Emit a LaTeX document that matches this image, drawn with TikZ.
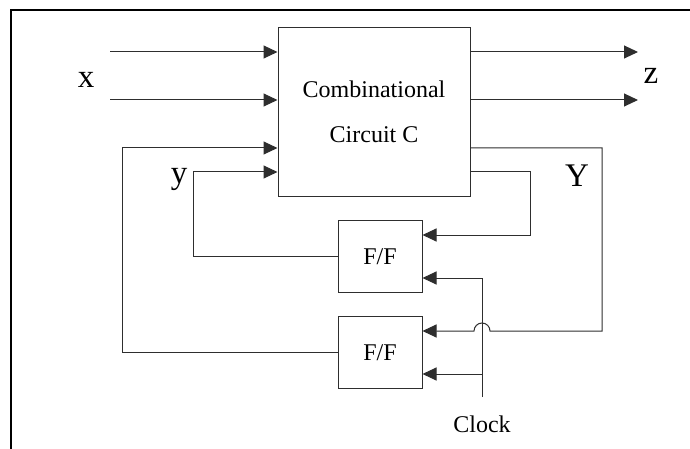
\documentclass[tikz,border=0pt]{standalone}
\usepackage{fontspec}
\setmainfont{Liberation Serif}
\usetikzlibrary{arrows.meta, calc}
\definecolor{wire}{HTML}{2E2E2E}

\begin{document}
\begin{tikzpicture}[
    x=1pt, y=-1pt,
    blk/.style={draw=wire, line width=1pt, inner sep=0pt, align=center},
    arr/.style={-{Triangle[length=14pt, width=13pt]}, draw=wire, line width=1pt},
    lbl/.style={font=\fontsize{33}{33}\selectfont, inner sep=0pt},
    txt/.style={font=\fontsize{24}{45}\selectfont},
]
    \useasboundingbox (0,0) rectangle (690,449);
    \draw[line width=2pt] (11,449) -- (11,10) -- (690,10);

    % blocks
    \node[blk, txt, minimum width=192pt, minimum height=168pt] (comb) at (374,112) {Combinational\\Circuit C};
    \node[blk, txt, minimum width=84pt, minimum height=72pt] (ff1) at (380,256.5) {F/F};
    \node[blk, txt, minimum width=84pt, minimum height=72pt] (ff2) at (380,352.5) {F/F};

    % inputs x
    \coordinate (xa) at (110,52);
    \coordinate (xb) at (110,100);
    \draw[arr] (xa) -- (xa -| comb.west);
    \draw[arr] (xb) -- (xb -| comb.west);
    \node[lbl] (lx) at (86,80) {x};

    % outputs z
    \coordinate (za) at (638,52);
    \coordinate (zb) at (638,100);
    \draw[arr] (za -| comb.east) -- (za);
    \draw[arr] (zb -| comb.east) -- (zb);
    \node[lbl] (lz) at (651,76) {z};

    % feedback y
    \coordinate (ya) at (comb.west |- 0,148);
    \coordinate (yb) at (comb.west |- 0,172);
    \draw[arr] (ff1.west) -- ++(-144,0) |- (yb);
    \draw[arr] (ff2.west) -- ++(-215,0) |- (ya);
    \node[lbl] (ly) at (179,179) {y};

    % next state Y
    \coordinate (Ya) at (comb.east |- 0,148);
    \coordinate (Yb) at (comb.east |- 0,172);
    \draw[arr] (Yb) -- (530,172) |- ([yshift=21.5pt]ff1.east);
    \draw[arr] (Ya) -- (602,148) -- (602,331) -- (490,331)
        arc[start angle=0, end angle=180, radius=8pt] -- ([yshift=21.5pt]ff2.east);
    \node[lbl] (lY) at (577,176) {Y};

    % clock
    \coordinate (clk) at (482,397);
    \draw[arr] (clk) |- ([yshift=-21.5pt]ff1.east);
    \draw[arr] (clk |- 0,374) -- ([yshift=-21.5pt]ff2.east);
    \node[txt] (lclk) at (482,424) {Clock};
\end{tikzpicture}
\end{document}
